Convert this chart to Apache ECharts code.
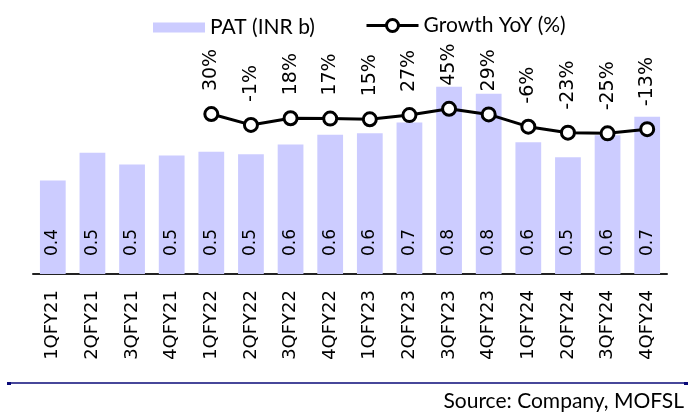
<!DOCTYPE html>
<html>
<head>
<meta charset="utf-8">
<script src="https://cdn.jsdelivr.net/npm/echarts@6/dist/echarts.min.js"></script>
<style>
  html, body { margin: 0; padding: 0; background: #fff; }
  #chart { width: 700px; height: 414px; }
</style>
</head>
<body>
<div id="chart"></div>
<script>
// quarters
const categories = ['1QFY21', '2QFY21', '3QFY21', '4QFY21', '1QFY22', '2QFY22', '3QFY22', '4QFY22',
  '1QFY23', '2QFY23', '3QFY23', '4QFY23', '1QFY24', '2QFY24', '3QFY24', '4QFY24']
// PAT (INR b)
const patValues = [0.405, 0.525, 0.474, 0.513, 0.529, 0.518, 0.56, 0.603,
  0.609, 0.656, 0.81, 0.78, 0.57, 0.505, 0.6, 0.68]
// YoY growth (%), first year has none
const growthValues = [null, null, null, null, 30, -1, 18, 17, 15, 27, 45, 29, -6, -23, -25, -13]

const textFont = 'Lato, "Open Sans", sans-serif'
const labelFont = '"DejaVu Sans", Verdana, sans-serif'

let chart = echarts.init(document.getElementById('chart'))
chart.setOption({
  animation: false,
  textStyle: { fontFamily: textFont },
  // two legends so the line icon can be taller than the bar swatch
  legend: [
    {
      top: 12,
      left: 148,
      itemWidth: 52,
      itemHeight: 10,
      textStyle: { fontSize: 21, color: '#000', fontFamily: textFont },
      data: [{ name: 'PAT (INR b)', icon: 'rect' }]
    },
    {
      top: 10,
      left: 360,
      itemWidth: 52,
      itemHeight: 15,
      lineStyle: { width: 3 },
      itemStyle: { borderWidth: 3 },
      textStyle: { fontSize: 21, color: '#000', fontFamily: textFont },
      data: [{ name: 'Growth YoY (%)' }]
    }
  ],
  grid: {
    left: 33,
    right: 33,
    top: 66,
    bottom: 140
  },
  xAxis: {
    type: 'category',
    data: categories,
    axisLine: { lineStyle: { color: '#222', width: 2 } },
    axisTick: { show: false },
    axisLabel: {
      rotate: 90,
      margin: 16,
      fontSize: 18,
      color: '#000',
      fontFamily: labelFont
    }
  },
  yAxis: [
    { type: 'value', min: 0, max: 0.9, show: false },
    { type: 'value', min: -426, max: 167, show: false }
  ],
  series: [
    {
      name: 'PAT (INR b)',
      type: 'bar',
      barWidth: '65%',
      data: patValues,
      itemStyle: { color: '#CCCCFF' },
      label: {
        show: true,
        position: 'insideBottom',
        rotate: 90,
        align: 'left',
        verticalAlign: 'middle',
        distance: 18,
        fontSize: 17,
        color: '#000',
        fontFamily: labelFont,
        formatter: p => p.value.toFixed(1)
      }
    },
    {
      name: 'Growth YoY (%)',
      type: 'line',
      yAxisIndex: 1,
      data: growthValues,
      symbol: 'circle',
      symbolSize: 13,
      lineStyle: { color: '#000', width: 3 },
      itemStyle: { color: '#fff', borderColor: '#000', borderWidth: 3 },
      label: {
        show: true,
        position: 'top',
        rotate: 90,
        align: 'left',
        verticalAlign: 'middle',
        distance: 15,
        fontSize: 19,
        color: '#000',
        fontFamily: labelFont,
        formatter: p => p.value + '%'
      },
      z: 5
    }
  ],
  graphic: [
    {
      type: 'line',
      shape: { x1: 7, y1: 383, x2: 688, y2: 383 },
      style: { stroke: '#0A0A78', lineWidth: 1.5 }
    },
    {
      type: 'rect',
      shape: { x: 7, y: 382, width: 4, height: 3 },
      style: { fill: '#0A0A78' }
    },
    {
      type: 'rect',
      shape: { x: 684, y: 382, width: 4, height: 3 },
      style: { fill: '#0A0A78' }
    },
    {
      type: 'text',
      style: {
        text: 'Source: Company, MOFSL',
        x: 684,
        y: 401,
        align: 'right',
        verticalAlign: 'middle',
        fontSize: 21,
        fill: '#000',
        fontFamily: textFont
      }
    }
  ]
})
</script>
</body>
</html>
